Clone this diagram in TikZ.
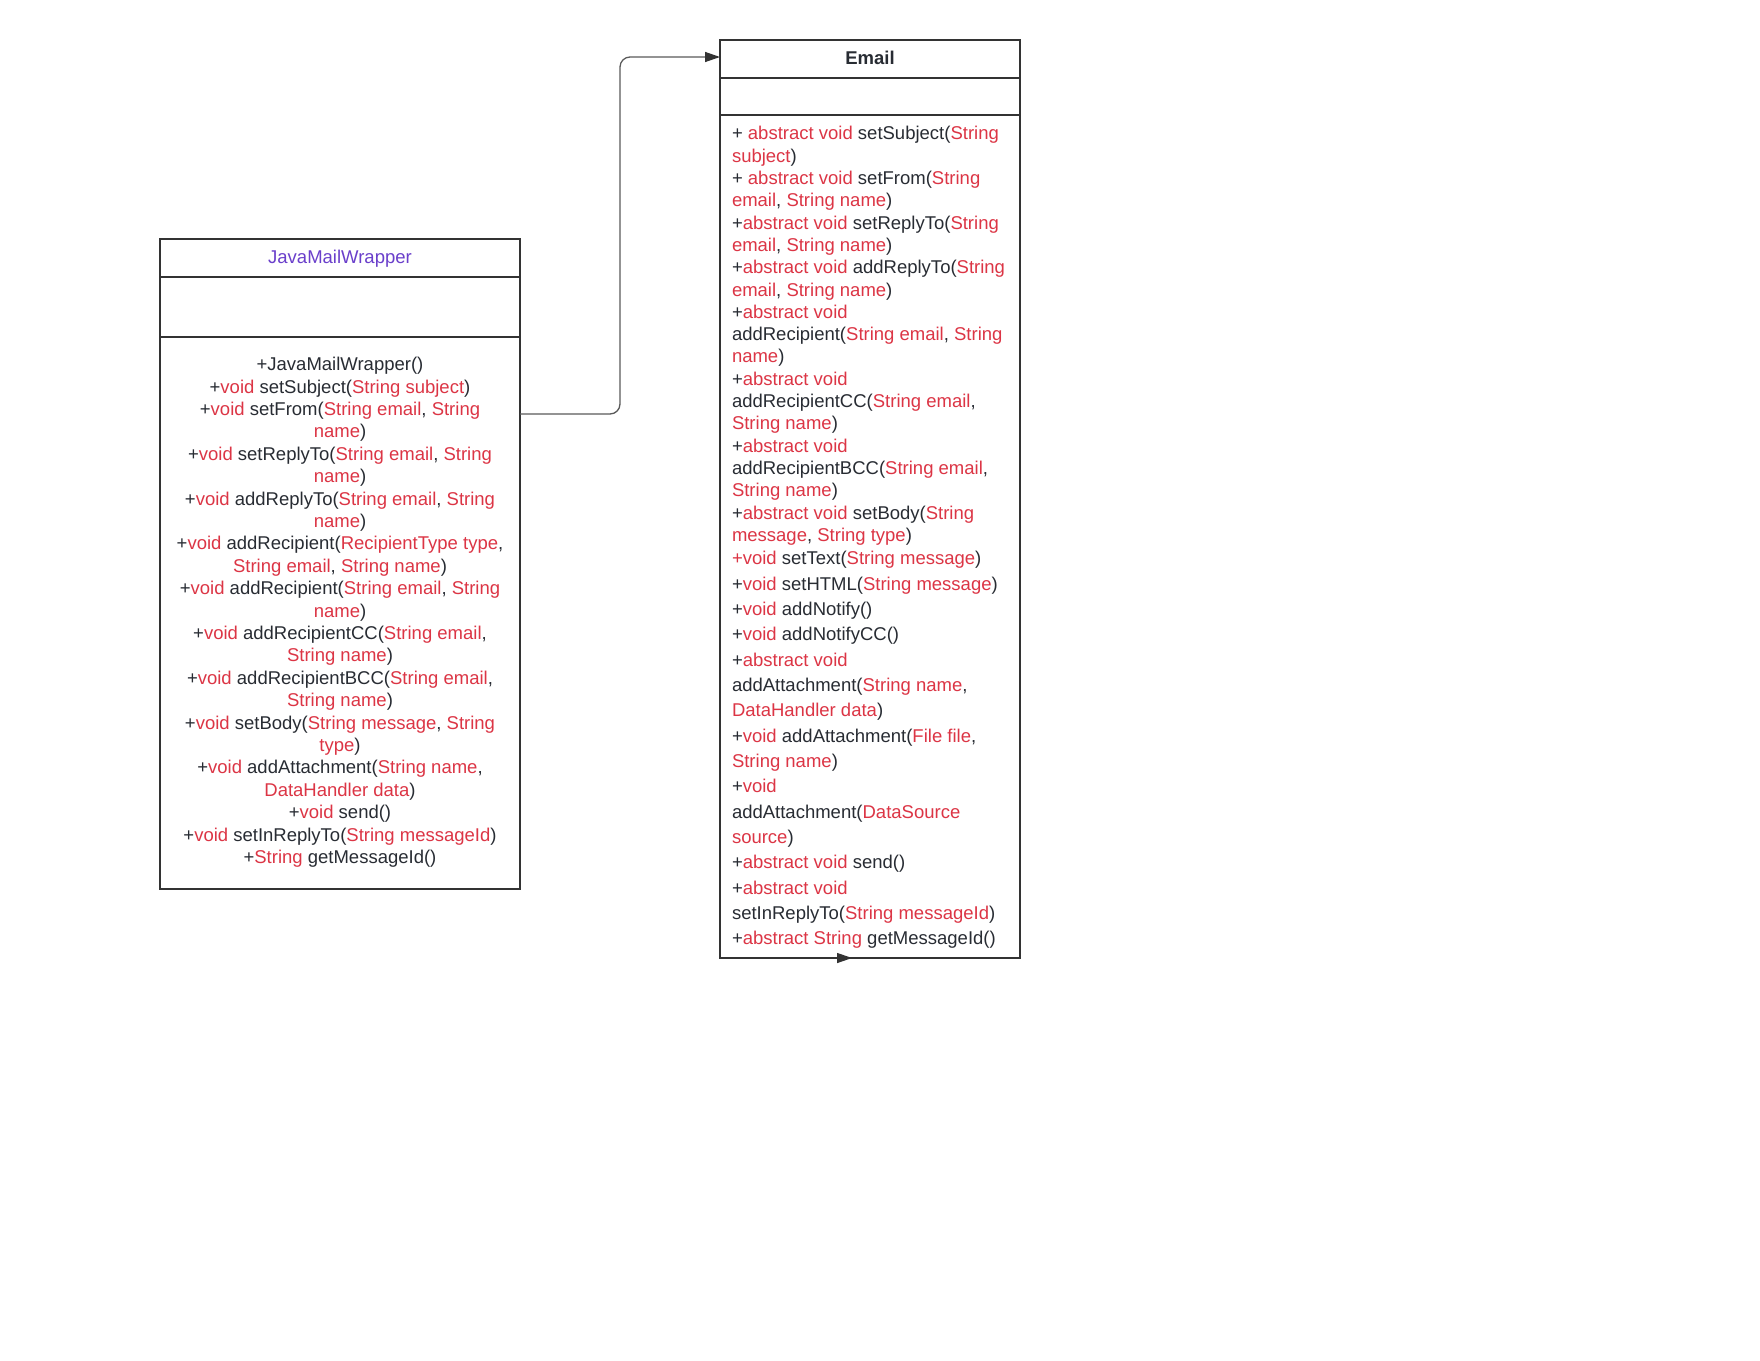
\documentclass[tikz,border=0pt]{standalone}
\usepackage{fontspec}
\setmainfont{Liberation Sans}
\usetikzlibrary{arrows.meta,calc}
\definecolor{umlred}{HTML}{DC3545}
\definecolor{umlpurple}{HTML}{6A3FCB}
\definecolor{umltext}{HTML}{282C33}
\definecolor{umlborder}{HTML}{333333}
\definecolor{umllink}{HTML}{5A5A5A}
\newcommand\redpart[1]{\textcolor{umlred}{#1}}
\begin{document}
\begin{tikzpicture}[x=1pt,y=-1pt,
  compartment/.style={draw=umlborder, line width=2pt, inner sep=0pt, outer sep=0pt, anchor=north west},
  member/.style={inner sep=0pt, outer sep=0pt, font=\fontsize{18.5}{22.4}\selectfont, text=umltext},
  link/.style={draw=umllink, line width=1.3pt, rounded corners=10pt, -{Triangle[length=15pt,width=10pt,color=umlborder]}}]
\useasboundingbox (0,0) rectangle (1760,1360);
\fill[white] (0,0) rectangle (1760,1360);

% JavaMailWrapper class
\node[compartment, minimum width=360pt, minimum height=38pt] (jmwHead) at (160,239) {};
\node[compartment, minimum width=360pt, minimum height=60pt] (jmwAttr) at (jmwHead.south west) {};
\node[compartment, minimum width=360pt, minimum height=552pt] (jmwOps) at (jmwAttr.south west) {};
\node[member, anchor=mid, text=umlpurple] (jmwTitle) at (340,260.5) {JavaMailWrapper};
\foreach \txt [count=\i from 0] in {
  {+JavaMailWrapper()},
  {+\redpart{void} setSubject(\redpart{String subject})},
  {+\redpart{void} setFrom(\redpart{String email}, \redpart{String}},
  {\redpart{name})},
  {+\redpart{void} setReplyTo(\redpart{String email}, \redpart{String}},
  {\redpart{name})},
  {+\redpart{void} addReplyTo(\redpart{String email}, \redpart{String}},
  {\redpart{name})},
  {+\redpart{void} addRecipient(\redpart{RecipientType type},},
  {\redpart{String email}, \redpart{String name})},
  {+\redpart{void} addRecipient(\redpart{String email}, \redpart{String}},
  {\redpart{name})},
  {+\redpart{void} addRecipientCC(\redpart{String email},},
  {\redpart{String name})},
  {+\redpart{void} addRecipientBCC(\redpart{String email},},
  {\redpart{String name})},
  {+\redpart{void} setBody(\redpart{String message}, \redpart{String}},
  {\redpart{type})},
  {+\redpart{void} addAttachment(\redpart{String name},},
  {\redpart{DataHandler data})},
  {+\redpart{void} send()},
  {+\redpart{void} setInReplyTo(\redpart{String messageId})},
  {+\redpart{String} getMessageId()}}
{\node[member, anchor=mid] (jmwLine\i) at (340,{368+\i*22.4}) {\txt};}

% Email class
\node[compartment, minimum width=300pt, minimum height=38pt] (emailHead) at (720,40) {};
\node[compartment, minimum width=300pt, minimum height=37pt] (emailAttr) at (emailHead.south west) {};
\node[compartment, minimum width=300pt, minimum height=843pt] (emailOps) at (emailAttr.south west) {};
\node[member, anchor=mid, font=\fontsize{18.5}{22.4}\selectfont\bfseries] (emailTitle) at (870,61.5) {Email};
\foreach \txt [count=\i from 0] in {
  {+ \redpart{abstract void} setSubject(\redpart{String}},
  {\redpart{subject})},
  {+ \redpart{abstract void} setFrom(\redpart{String}},
  {\redpart{email}, \redpart{String name})},
  {+\redpart{abstract void} setReplyTo(\redpart{String}},
  {\redpart{email}, \redpart{String name})},
  {+\redpart{abstract void} addReplyTo(\redpart{String}},
  {\redpart{email}, \redpart{String name})},
  {+\redpart{abstract void}},
  {addRecipient(\redpart{String email}, \redpart{String}},
  {\redpart{name})},
  {+\redpart{abstract void}},
  {addRecipientCC(\redpart{String email},},
  {\redpart{String name})},
  {+\redpart{abstract void}},
  {addRecipientBCC(\redpart{String email},},
  {\redpart{String name})},
  {+\redpart{abstract void} setBody(\redpart{String}},
  {\redpart{message}, \redpart{String type})}}
{\node[member, anchor=mid west] (emailLineA\i) at (732,{137.3+\i*22.3}) {\txt};}
\foreach \txt [count=\i from 0] in {
  {\redpart{+void} setText(\redpart{String message})},
  {+\redpart{void} setHTML(\redpart{String message})},
  {+\redpart{void} addNotify()},
  {+\redpart{void} addNotifyCC()},
  {+\redpart{abstract void}},
  {addAttachment(\redpart{String name},},
  {\redpart{DataHandler data})},
  {+\redpart{void} addAttachment(\redpart{File file},},
  {\redpart{String name})},
  {+\redpart{void}},
  {addAttachment(\redpart{DataSource}},
  {\redpart{source})},
  {+\redpart{abstract void} send()},
  {+\redpart{abstract void}},
  {setInReplyTo(\redpart{String messageId})},
  {+\redpart{abstract String} getMessageId()}}
{\node[member, anchor=mid west] (emailLineB\i) at (732,{562.3+\i*25.33}) {\txt};}

% connectors
\coordinate (linkStart) at ($(jmwOps.north west)+(360,77)$);
\coordinate (linkEnd) at ($(emailHead.north west)+(0,17)$);
\draw[link] (linkStart) -- (linkStart -| 620,0) -- (linkEnd -| 620,0) -- (linkEnd);
\coordinate (strayStart) at ($(emailOps.south west)+(116,0)$);
\coordinate (strayEnd) at ($(emailOps.south west)+(132,0)$);
\draw[link, draw=umlborder] (strayStart) -- (strayEnd);
\end{tikzpicture}
\end{document}
